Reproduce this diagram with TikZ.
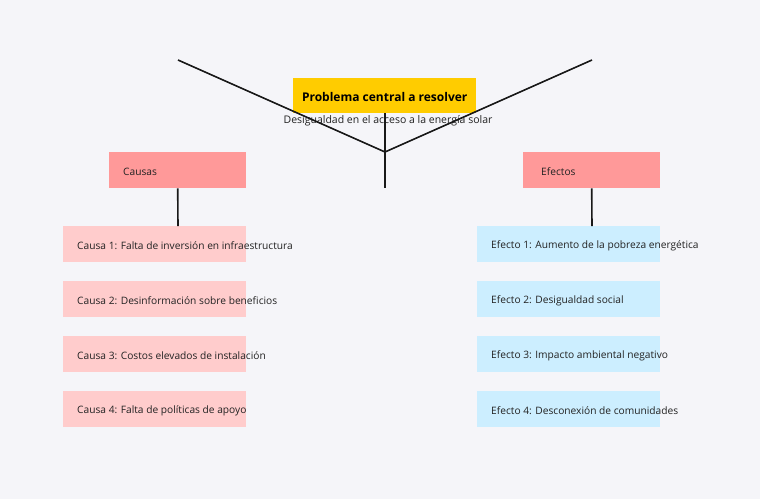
\documentclass[tikz,border=0pt]{standalone}
\usepackage{fontspec}
\setmainfont{Open Sans}
\definecolor{bg}{HTML}{F5F5F9}
\definecolor{titlefill}{HTML}{FFCC00}
\definecolor{headfill}{HTML}{FF9999}
\definecolor{causefill}{HTML}{FFCCCC}
\definecolor{effectfill}{HTML}{CCEEFF}
\definecolor{txt}{HTML}{222222}
\begin{document}
\begin{tikzpicture}[x=1pt,y=-1pt,
  box/.style={draw=none,inner sep=0pt,minimum width=137pt,minimum height=36pt,anchor=north west},
  item/.style={draw=none,inner sep=0pt,minimum width=183pt,minimum height=36pt,anchor=north west},
  lbl/.style={anchor=west,inner sep=0pt,font=\fontsize{10.2pt}{12pt}\selectfont,text=txt},
  conn/.style={draw=black!90,line width=1.6pt}]
\fill[bg] (0,0) rectangle (760,499);
\useasboundingbox (0,0) rectangle (760,499);
% title
\node[fill=titlefill,inner sep=0pt,minimum width=183pt,minimum height=35pt,anchor=north west] (title) at (293,78) {};
\node[font=\bfseries\fontsize{12pt}{14pt}\selectfont,text=black] (titletxt) at ([yshift=-1pt]title.center) {Problema central a resolver};
\node[font=\fontsize{10.5pt}{12pt}\selectfont,text=txt,inner sep=0pt] (sub) at (388,121) {Desigualdad en el acceso a la energía solar};
\coordinate (tl) at (178,60);
\coordinate (tr) at (592,60);
\coordinate (hub) at (385,152);
\coordinate (vtop) at (385,113);
\coordinate (vbot) at (385,188);
\draw[conn] (tl) -- (hub) -- (tr);
\draw[conn] (vtop) -- (vbot);
% heads
\node[box,fill=headfill] (causas) at (109,152) {};
\node[lbl] at ([xshift=14pt,yshift=-1.5pt]causas.west) {Causas};
\node[box,fill=headfill] (efectos) at (523,152) {};
\node[lbl] at ([xshift=18pt,yshift=-1.5pt]efectos.west) {Efectos};
% causes
\node[item,fill=causefill] (c1) at (63,226) {};
\node[item,fill=causefill] (c2) at (63,281) {};
\node[item,fill=causefill] (c3) at (63,336) {};
\node[item,fill=causefill] (c4) at (63,391) {};
\node[lbl] at ([xshift=14pt,yshift=-1.5pt]c1.west) {Causa 1: Falta de inversión en infraestructura};
\node[lbl] at ([xshift=14pt,yshift=-1.5pt]c2.west) {Causa 2: Desinformación sobre beneficios};
\node[lbl] at ([xshift=14pt,yshift=-1.5pt]c3.west) {Causa 3: Costos elevados de instalación};
\node[lbl] at ([xshift=14pt,yshift=-1.5pt]c4.west) {Causa 4: Falta de políticas de apoyo};
% effects
\node[item,fill=effectfill] (e1) at (477,226) {};
\node[item,fill=effectfill] (e2) at (477,281) {};
\node[item,fill=effectfill] (e3) at (477,336) {};
\node[item,fill=effectfill] (e4) at (477,391) {};
\node[lbl] at ([xshift=14pt,yshift=-1.5pt]e1.west) {Efecto 1: Aumento de la pobreza energética};
\node[lbl] at ([xshift=14pt,yshift=-1.5pt]e2.west) {Efecto 2: Desigualdad social};
\node[lbl] at ([xshift=14pt,yshift=-1.5pt]e3.west) {Efecto 3: Impacto ambiental negativo};
\node[lbl] at ([xshift=14pt,yshift=-1.5pt]e4.west) {Efecto 4: Desconexión de comunidades};
% connectors
\draw[conn] (causas.south) -- ([xshift=115pt]c1.north west);
\draw[conn] (efectos.south) -- ([xshift=115pt]e1.north west);
\end{tikzpicture}
\end{document}
